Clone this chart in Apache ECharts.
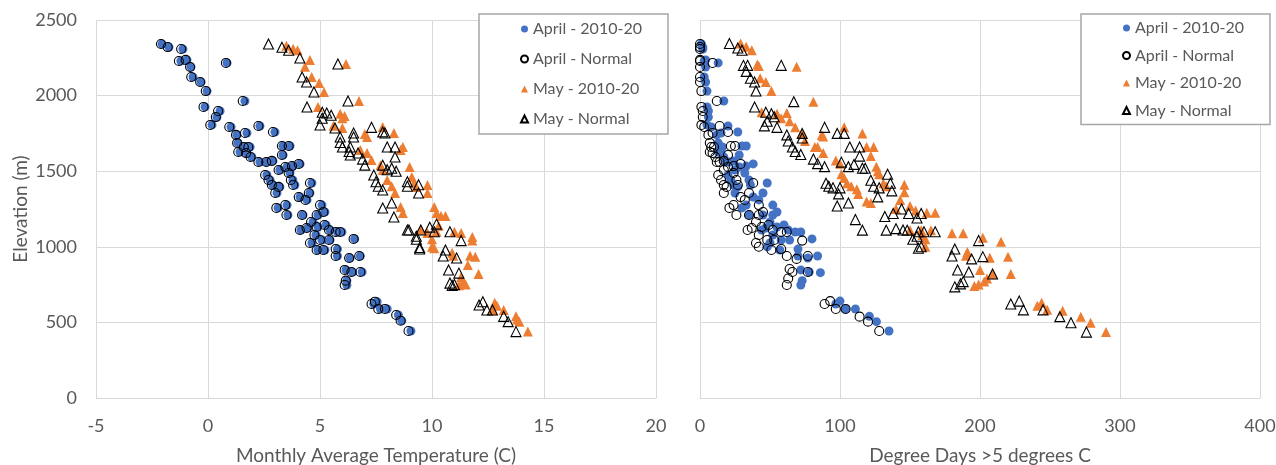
<!DOCTYPE html>
<html>
<head>
<meta charset="utf-8">
<script src="https://cdn.jsdelivr.net/npm/echarts@6/dist/echarts.min.js"></script>
<style>
html,body{margin:0;padding:0;background:#fff;}
#c{width:1276px;height:465px;}
</style>
</head>
<body>
<div id="c"></div>
<script>
// ---- Data ----
var seriesNames = ['April - 2010-20', 'April - Normal', 'May - 2010-20', 'May - Normal'];
var tempTicks = [-5, 0, 5, 10, 15, 20];
var ddTicks = [0, 100, 200, 300, 400];
var elevTicks = [0, 500, 1000, 1500, 2000, 2500];

// Left panel: [monthly average temperature (C), elevation (m)]
var aprilObsTemp = [[-2.05,2341],[-1.74,2321],[-1.12,2308],[-1.21,2229],[-0.94,2236],[-0.76,2189],[-0.67,2123],[-0.31,2090],[-0.04,2030],[0.85,2216],[1.65,1964],[-0.13,1925],[0.54,1898],[0.40,1858],[0.18,1806],[1.03,1792],[2.32,1799],[1.29,1740],[1.74,1753],[2.99,1759],[1.34,1687],[1.65,1660],[1.88,1660],[1.43,1627],[1.74,1620],[1.96,1594],[3.35,1667],[3.66,1667],[3.35,1607],[2.32,1561],[2.63,1561],[2.90,1568],[3.21,1508],[3.53,1528],[3.79,1534],[4.11,1548],[2.63,1475],[2.77,1442],[2.90,1409],[3.21,1396],[3.08,1356],[3.66,1488],[3.79,1442],[3.88,1409],[4.64,1422],[4.11,1329],[4.55,1356],[4.42,1310],[3.53,1276],[3.13,1257],[3.57,1210],[4.24,1210],[4.91,1210],[5.22,1230],[5.09,1276],[4.69,1164],[4.91,1131],[5.27,1144],[5.45,1111],[4.46,1124],[4.15,1111],[4.82,1078],[5.09,1045],[5.45,1045],[4.64,1025],[4.91,979],[5.22,979],[5.78,1098],[5.98,1098],[6.55,1052],[5.78,985],[5.78,939],[6.34,926],[6.80,939],[6.16,847],[6.45,833],[6.88,833],[6.20,776],[6.20,747],[7.55,637],[7.40,622],[7.70,589],[8.00,589],[8.50,549],[8.65,511],[9.06,443]];
var aprilNormTemp = [[-2.10,2341],[-1.80,2321],[-1.20,2308],[-1.30,2229],[-1.00,2236],[-0.80,2189],[-0.75,2123],[-0.35,2090],[-0.10,2030],[0.80,2216],[1.55,1964],[-0.20,1925],[0.45,1898],[0.35,1858],[0.10,1806],[0.95,1792],[2.25,1799],[1.25,1740],[1.65,1753],[2.90,1759],[1.30,1687],[1.60,1660],[1.80,1660],[1.35,1627],[1.70,1620],[1.90,1594],[3.30,1667],[3.60,1667],[3.30,1607],[2.25,1561],[2.60,1561],[2.85,1568],[3.15,1508],[3.45,1528],[3.75,1534],[4.05,1548],[2.55,1475],[2.70,1442],[2.85,1409],[3.15,1396],[3.00,1356],[3.60,1488],[3.70,1442],[3.80,1409],[4.55,1422],[4.05,1329],[4.50,1356],[4.35,1310],[3.45,1276],[3.05,1257],[3.50,1210],[4.20,1210],[4.85,1210],[5.15,1230],[5.00,1276],[4.60,1164],[4.85,1131],[5.20,1144],[5.40,1111],[4.40,1124],[4.10,1111],[4.75,1078],[5.00,1045],[5.40,1045],[4.55,1025],[4.85,979],[5.15,979],[5.70,1098],[5.90,1098],[6.50,1052],[5.70,985],[5.70,939],[6.30,926],[6.75,939],[6.10,847],[6.40,833],[6.80,833],[6.15,776],[6.10,747],[7.45,637],[7.30,622],[7.60,589],[7.90,589],[8.40,549],[8.60,511],[8.95,443]];
var mayObsTemp = [[3.5,2330],[3.8,2310],[4.0,2300],[4.55,2236],[4.33,2190],[4.63,2123],[4.96,2083],[5.18,2024],[6.16,2209],[6.74,1964],[4.91,1925],[5.9,1880],[6.1,1865],[6.0,1850],[5.6,1800],[6.0,1785],[7.0,1746],[7.1,1726],[7.8,1792],[8.3,1753],[8.7,1660],[8.6,1640],[6.8,1640],[7.1,1620],[7.3,1574],[7.7,1540],[7.8,1508],[9.0,1528],[8.0,1442],[8.2,1400],[8.35,1356],[9.1,1462],[9.2,1420],[9.3,1396],[9.8,1409],[9.8,1356],[8.6,1263],[8.7,1223],[10.1,1263],[10.2,1223],[10.4,1203],[10.6,1203],[9.5,1111],[9.8,1091],[11.3,1091],[11.8,1065],[14.28,439],[13.9,505],[13.75,540],[13.8,520],[13.2,582],[12.7,580],[12.8,630],[12.9,610],[12.08,820],[11.93,935],[11.8,1041],[11.3,800],[11.4,770],[11.2,745],[11.5,750],[11.7,940],[11.6,880],[10.9,960],[10.95,940],[11.0,1100],[10.0,1000],[10.1,990],[10.0,1050],[10.2,1100],[10.3,1140]];
var mayNormTemp = [[2.7,2341],[3.3,2320],[3.6,2300],[4.1,2249],[5.8,2209],[4.2,2123],[4.4,2090],[4.73,2024],[4.42,1925],[6.25,1964],[5.1,1890],[5.3,1885],[5.5,1870],[5.1,1850],[5.0,1806],[5.67,1786],[7.3,1790],[7.8,1760],[7.9,1753],[6.5,1753],[6.5,1726],[5.9,1726],[5.9,1690],[6.0,1660],[6.35,1660],[6.3,1630],[6.35,1607],[8.0,1660],[8.35,1660],[8.35,1594],[6.7,1620],[6.9,1580],[7.0,1540],[7.8,1540],[8.0,1510],[8.2,1520],[8.4,1500],[7.4,1475],[7.5,1430],[7.6,1400],[7.8,1376],[8.9,1430],[8.9,1400],[9.4,1410],[9.4,1356],[7.8,1257],[8.3,1197],[8.2,1290],[8.9,1111],[9.5,1111],[9.9,1130],[10.2,1150],[13.75,439],[13.4,505],[13.2,540],[12.7,582],[12.45,582],[12.27,637],[12.1,615],[11.2,826],[10.74,847],[10.8,760],[10.9,745],[11.0,750],[11.1,926],[10.5,939],[10.6,979],[11.3,1041],[9.45,985],[9.45,995],[9.3,1050],[9.3,1070],[8.97,1111],[10.1,1100],[10.8,1100]];

// Right panel: [degree days > 5 C, elevation (m)]
var aprilObsDD = [[1,2341],[2,2321],[2,2308],[3,2229],[4,2236],[4,2189],[3,2123],[4,2090],[5,2030],[13,2216],[17,1964],[5,1925],[6,1898],[6,1858],[5,1806],[8,1792],[20,1799],[12,1740],[15,1753],[27,1759],[13,1687],[14,1660],[16,1660],[13,1627],[15,1620],[17,1594],[30,1667],[33,1667],[28,1607],[18,1561],[21,1561],[24,1568],[25,1508],[28,1528],[33,1534],[38,1548],[20,1475],[22,1442],[24,1409],[27,1396],[25,1356],[32,1488],[35,1442],[36,1409],[48,1422],[38,1329],[45,1356],[42,1310],[33,1276],[30,1257],[35,1210],[45,1210],[52,1210],[55,1230],[52,1276],[50,1164],[55,1131],[60,1144],[63,1111],[47,1124],[44,1111],[52,1078],[58,1045],[64,1045],[50,1025],[48,1000],[57,979],[68,1098],[72,1098],[80,1052],[70,985],[70,939],[77,926],[84,939],[72,847],[78,833],[86,829],[73,776],[72,747],[100,641],[97,622],[104,589],[111,589],[121,540],[126,505],[135,443]];
var aprilNormDD = [[0,2341],[0,2321],[0,2308],[0,2229],[0,2236],[0,2189],[0,2123],[0,2090],[1,2030],[9,2216],[12,1964],[1,1925],[2,1898],[2,1858],[1,1806],[3,1792],[14,1799],[6,1740],[9,1753],[20,1759],[7,1687],[8,1660],[10,1660],[7,1627],[9,1620],[11,1594],[22,1667],[25,1667],[20,1607],[12,1561],[14,1561],[17,1568],[17,1508],[20,1528],[24,1534],[29,1548],[13,1475],[15,1442],[17,1409],[19,1396],[17,1356],[24,1488],[26,1442],[27,1409],[38,1422],[29,1329],[35,1356],[32,1310],[24,1276],[21,1257],[26,1210],[35,1210],[42,1210],[45,1230],[42,1276],[40,1164],[44,1131],[49,1144],[52,1111],[37,1124],[34,1111],[42,1078],[48,1045],[53,1045],[40,1025],[42,1000],[51,979],[58,1098],[62,1098],[73,1041],[58,985],[62,939],[69,920],[77,939],[64,853],[66,833],[77,833],[63,790],[62,747],[93,641],[89,622],[97,589],[104,589],[114,538],[120,505],[128,443]];
var mayObsDD = [[29,2345],[33,2323],[37,2300],[41,2205],[42,2195],[69,2190],[43,2115],[47,2090],[51,2030],[81,1960],[44,1890],[55,1880],[62,1885],[64,1830],[58,1850],[68,1790],[87,1740],[88,1730],[73,1750],[75,1700],[103,1790],[116,1750],[82,1660],[84,1660],[88,1620],[97,1570],[100,1550],[119,1660],[124,1660],[122,1600],[101,1480],[103,1455],[105,1420],[108,1400],[112,1380],[113,1350],[126,1530],[127,1500],[128,1480],[131,1420],[133,1400],[146,1410],[146,1360],[119,1300],[122,1290],[143,1310],[140,1250],[150,1270],[154,1240],[162,1225],[168,1225],[150,1110],[158,1110],[165,1110],[180,1090],[188,1090],[202,1060],[159,1078],[161,1050],[161,1000],[191,965],[190,940],[215,1034],[220,935],[207,927],[222,820],[209,818],[200,847],[205,790],[203,770],[199,750],[196,740],[244,630],[241,610],[248,583],[259,577],[272,538],[279,498],[290,436]];
var mayNormDD = [[21,2345],[27,2315],[30,2300],[31,2200],[34,2200],[33,2160],[58,2200],[36,2115],[39,2090],[40,2030],[67,1960],[39,1925],[47,1890],[51,1880],[53,1860],[48,1830],[46,1800],[55,1790],[89,1790],[98,1750],[103,1750],[62,1740],[63,1700],[66,1660],[68,1630],[72,1610],[73,1750],[73,1720],[81,1580],[84,1550],[89,1530],[107,1660],[114,1660],[114,1600],[101,1560],[106,1530],[110,1545],[116,1520],[118,1520],[90,1420],[92,1400],[95,1390],[100,1390],[99,1350],[122,1440],[124,1400],[128,1390],[127,1330],[134,1480],[136,1420],[137,1370],[98,1270],[106,1290],[111,1180],[132,1200],[138,1220],[144,1250],[149,1220],[155,1190],[158,1220],[116,1110],[133,1110],[140,1120],[148,1110],[156,1100],[160,1100],[168,1100],[145,1111],[152,1050],[155,1070],[158,1000],[156,990],[182,985],[180,939],[199,1041],[202,935],[194,920],[209,820],[192,833],[184,847],[188,770],[186,755],[182,735],[228,641],[222,622],[231,583],[245,583],[257,538],[265,498],[276,436]];

// ---- Chart ----
var FONT = 'Lato, "Open Sans", sans-serif';
var GRAY = '#595959';
var GRID = '#d9d9d9';
var BLUE = '#4472C4';
var ORANGE = '#ED7D31';

function plain(v) { return String(v); }

function xAxisDef(idx, ticks, name) {
  return {
    type: 'value', gridIndex: idx,
    min: ticks[0], max: ticks[ticks.length - 1], interval: ticks[1] - ticks[0],
    name: name, nameLocation: 'middle', nameGap: 48,
    nameTextStyle: {color: GRAY, fontSize: 19, fontFamily: FONT},
    axisLine: {show: true, lineStyle: {color: GRID, width: 1}},
    axisTick: {show: false},
    axisLabel: {color: GRAY, fontSize: 18, fontFamily: FONT, margin: 19, formatter: plain},
    splitLine: {show: true, lineStyle: {color: GRID, width: 1}}
  };
}
function yAxisDef(idx, showLabels) {
  return {
    type: 'value', gridIndex: idx,
    min: elevTicks[0], max: elevTicks[elevTicks.length - 1], interval: elevTicks[1] - elevTicks[0],
    name: showLabels ? 'Elevation (m)' : '', nameLocation: 'middle', nameGap: 66,
    nameTextStyle: {color: GRAY, fontSize: 19, fontFamily: FONT},
    axisLine: {show: false},
    axisTick: {show: false},
    axisLabel: {show: showLabels, color: GRAY, fontSize: 18, fontFamily: FONT, margin: 19, formatter: plain},
    splitLine: {show: true, lineStyle: {color: GRID, width: 1}}
  };
}
function sc(name, data, idx, symbol, size, filledColor) {
  var style = filledColor ?
    {color: filledColor, opacity: 1} :
    {color: 'rgba(255,255,255,0)', borderColor: '#000', borderWidth: 1.1, opacity: 1};
  return {
    type: 'scatter', name: name, data: data,
    xAxisIndex: idx, yAxisIndex: idx,
    symbol: symbol, symbolSize: size,
    itemStyle: style,
    emphasis: {disabled: true},
    animation: false
  };
}
function legendDef(left, top, gap, pad) {
  return {
    data: seriesNames.map(function (n) { return {name: n}; }),
    orient: 'vertical', left: left, top: top,
    itemWidth: 7, itemHeight: 7, itemGap: gap,
    padding: pad,
    borderColor: '#a6a6a6', borderWidth: 1.5, backgroundColor: '#fff',
    textStyle: {color: GRAY, fontSize: 16, fontFamily: FONT, lineHeight: 16, padding: [0, 0, 0, 0]},
    selectedMode: false
  };
}

var chart = echarts.init(document.getElementById('c'), null, {renderer: 'canvas'});
chart.setOption({
  backgroundColor: '#fff',
  animation: false,
  grid: [
    {left: 96, right: 620, top: 20, bottom: 67, containLabel: false, outerBoundsMode: 'none'},
    {left: 700, right: 16, top: 20, bottom: 67, containLabel: false, outerBoundsMode: 'none'}
  ],
  xAxis: [
    xAxisDef(0, tempTicks, 'Monthly Average Temperature (C)'),
    xAxisDef(1, ddTicks, 'Degree Days >5 degrees C')
  ],
  yAxis: [yAxisDef(0, true), yAxisDef(1, false)],
  legend: [
    legendDef(479, 14, 14, [7, 26, 7, 41]),
    legendDef(1081, 14, 11.5, [6, 26, 6, 41])
  ],
  series: [
    sc(seriesNames[0], aprilObsTemp, 0, 'circle', 9, BLUE),
    sc(seriesNames[1], aprilNormTemp, 0, 'circle', 9, null),
    sc(seriesNames[2], mayObsTemp, 0, 'triangle', 10, ORANGE),
    sc(seriesNames[3], mayNormTemp, 0, 'triangle', 10, null),
    sc(seriesNames[0], aprilObsDD, 1, 'circle', 9, BLUE),
    sc(seriesNames[1], aprilNormDD, 1, 'circle', 9, null),
    sc(seriesNames[2], mayObsDD, 1, 'triangle', 10, ORANGE),
    sc(seriesNames[3], mayNormDD, 1, 'triangle', 10, null)
  ]
});
</script>
</body>
</html>
